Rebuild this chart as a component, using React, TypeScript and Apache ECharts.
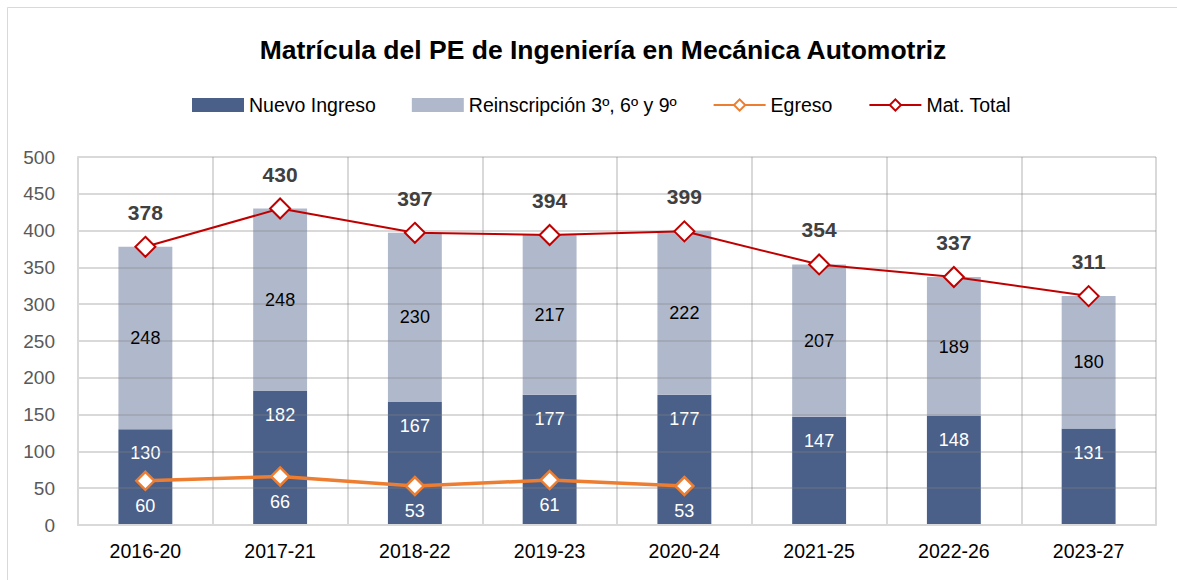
import React, { useEffect, useRef } from "react";
import * as echarts from "echarts";

const categories = ["2016-20", "2017-21", "2018-22", "2019-23", "2020-24", "2021-25", "2022-26", "2023-27"];
const nuevoIngreso = [130, 182, 167, 177, 177, 147, 148, 131];
const reinscripcion = [248, 248, 230, 217, 222, 207, 189, 180];
const egreso: (number | null)[] = [60, 66, 53, 61, 53, null, null, null];
const matTotal = [378, 430, 397, 394, 399, 354, 337, 311];

const FONT = "'Liberation Sans', Arial, sans-serif";

export default function App() {
  const ref = useRef<HTMLDivElement>(null);
  useEffect(() => {
    if (!ref.current) return;
    const chart = echarts.init(ref.current, null, { renderer: "svg" });
    chart.setOption({
      animation: false,
      backgroundColor: "#ffffff",
      textStyle: { fontFamily: FONT },
      title: {
        text: "Matrícula del PE de Ingeniería en Mecánica Automotriz",
        left: 598,
        textAlign: "center",
        top: 31,
        textStyle: { fontFamily: FONT, fontSize: 26.5, fontWeight: "bold", color: "#000000" },
      },
      legend: {
        top: 90,
        left: 187,
        width: 950,
        orient: "horizontal",
        itemWidth: 52,
        itemHeight: 14,
        itemGap: 36,
        textStyle: { fontFamily: FONT, fontSize: 19.5, color: "#000000" },
        data: [
          { name: "Nuevo Ingreso", icon: "rect" },
          { name: "Reinscripción 3º, 6º y 9º", icon: "rect" },
          { name: "Egreso" },
          { name: "Mat. Total" },
        ],
      },
      graphic: [
        {
          type: "rect",
          shape: { x: 7.5, y: 7.5, width: 1200, height: 600 },
          style: { fill: "none", stroke: "#d9d9d9", lineWidth: 1 },
          silent: true,
          z: -10,
        },
      ],
      grid: { left: 78, right: 21, top: 157, bottom: 55 },
      xAxis: {
        type: "category",
        data: categories,
        z: 3,
        axisLine: { show: true, lineStyle: { color: "#d9d9d9", width: 2 } },
        axisTick: { show: false },
        splitLine: { show: true, lineStyle: { color: "rgba(128,128,128,0.3)", width: 2 } },
        axisLabel: { fontFamily: FONT, fontSize: 19.5, color: "#000000", margin: 16 },
      },
      yAxis: {
        type: "value",
        min: 0,
        max: 500,
        interval: 50,
        z: 3,
        axisLine: { show: true, lineStyle: { color: "#d9d9d9", width: 2 } },
        axisTick: { show: false },
        splitLine: { show: true, lineStyle: { color: "rgba(128,128,128,0.3)", width: 2 } },
        axisLabel: { fontFamily: FONT, fontSize: 19, color: "#595959", margin: 23 },
      },
      series: [
        {
          name: "Nuevo Ingreso",
          type: "bar",
          stack: "total",
          data: nuevoIngreso,
          barWidth: "40%",
          z: 1,
          itemStyle: { color: "#4A6089" },
          label: {
            show: true,
            position: "insideTop",
            distance: 15,
            fontFamily: FONT,
            fontSize: 18,
            color: "#ffffff",
          },
        },
        {
          name: "Reinscripción 3º, 6º y 9º",
          type: "bar",
          stack: "total",
          data: reinscripcion,
          barWidth: "40%",
          z: 1,
          itemStyle: { color: "#B0B9CC" },
          label: {
            show: true,
            position: "inside",
            fontFamily: FONT,
            fontSize: 18,
            color: "#000000",
          },
        },
        {
          name: "Egreso",
          type: "line",
          data: egreso,
          z: 10,
          symbol: "diamond",
          symbolSize: 18,
          lineStyle: { color: "#ED7D31", width: 3.5 },
          itemStyle: { color: "#ffffff", borderColor: "#ED7D31", borderWidth: 2.5 },
          label: {
            show: true,
            position: "bottom",
            distance: 6,
            fontFamily: FONT,
            fontSize: 18,
            color: "#ffffff",
          },
        },
        {
          name: "Mat. Total",
          type: "line",
          data: matTotal,
          z: 11,
          symbol: "diamond",
          symbolSize: 20,
          lineStyle: { color: "#C00000", width: 2 },
          itemStyle: { color: "#ffffff", borderColor: "#C00000", borderWidth: 2 },
          label: {
            show: true,
            position: "top",
            distance: 13,
            fontFamily: FONT,
            fontSize: 21,
            fontWeight: "bold",
            color: "#404040",
          },
        },
      ],
    });
    return () => chart.dispose();
  }, []);
  return (
    <div
      ref={ref}
      style={{ position: "absolute", left: 0, top: 0, width: 1177, height: 580 }}
    />
  );
}
